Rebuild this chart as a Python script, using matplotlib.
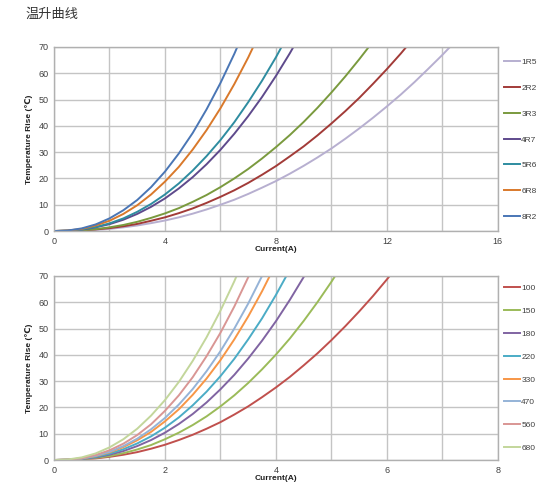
import matplotlib
matplotlib.use("Agg")
import matplotlib.pyplot as plt
import numpy as np

plt.rcParams['font.family'] = ['Liberation Sans', 'DejaVu Sans', 'Noto Sans CJK SC']

# ---- upper chart: temperature rise vs current, series 1R5 .. 8R2
current_top = np.arange(0, 15, 0.5)
top_labels = ["1R5", "2R2", "3R3", "4R7", "5R6", "6R8", "8R2"]
top_colors = ["#B7AFD0", "#A23B38", "#7A9A3E", "#5E4A8C", "#2E8CA0", "#D9792B", "#4A76B5"]
t_1r5 = [0, 0.0, 0.2, 0.4, 0.8, 1.4, 2.1, 3.0, 4.0, 5.2, 6.6, 8.2, 10.0, 11.9, 14.1,
         16.5, 19.0, 21.8, 24.8, 28.0, 31.4, 35.1, 39.0, 43.1, 47.4, 51.9, 56.7, 61.8, 67.0, 72.5]
t_2r2 = [0, 0.0, 0.2, 0.6, 1.1, 1.8, 2.7, 3.9, 5.2, 6.8, 8.6, 10.7, 13.0, 15.5, 18.3,
         21.4, 24.7, 28.4, 32.2, 36.4, 40.9, 45.6, 50.6, 56.0, 61.6, 67.5, 73.8]
t_3r3 = [0, 0.1, 0.3, 0.7, 1.4, 2.3, 3.5, 5.0, 6.7, 8.7, 11.1, 13.7, 16.7, 20.0, 23.6,
         27.6, 31.9, 36.5, 41.5, 46.9, 52.7, 58.8, 65.3, 72.1]
t_4r7 = [0, 0.1, 0.5, 1.4, 2.6, 4.3, 6.5, 9.2, 12.4, 16.2, 20.5, 25.4, 30.9, 37.0, 43.7,
         51.0, 59.0, 67.6, 76.9]
t_5r6 = [0, 0.1, 0.6, 1.5, 2.9, 4.8, 7.3, 10.3, 13.9, 18.1, 23.0, 28.5, 34.6, 41.4, 49.0,
         57.2, 66.1, 75.8]
t_6r8 = [0, 0.2, 0.8, 2.1, 3.9, 6.5, 9.8, 13.9, 18.8, 24.4, 31.0, 38.4, 46.7, 55.9, 66.0, 77.1]
t_8r2 = [0, 0.2, 1.0, 2.5, 4.8, 7.9, 11.8, 16.7, 22.6, 29.5, 37.3, 46.3, 56.3, 67.4, 79.6]

# ---- lower chart: series 100 .. 680
current_bot = np.arange(0, 6.5, 0.25)
bot_labels = ["100", "150", "180", "220", "330", "470", "560", "680"]
bot_colors = ["#C0504D", "#9BBB59", "#8064A2", "#4BACC6", "#F79646", "#95B3D7", "#D99694", "#C3D69B"]
b_100 = [0, 0.1, 0.3, 0.6, 1.2, 2.0, 3.0, 4.3, 5.8, 7.6, 9.6, 11.9, 14.4, 17.3, 20.4,
         23.9, 27.6, 31.6, 36.0, 40.6, 45.6, 50.9, 56.5, 62.4, 68.7, 75.3]
b_150 = [0, 0.1, 0.3, 0.8, 1.5, 2.6, 4.0, 5.7, 7.9, 10.4, 13.3, 16.6, 20.4, 24.6, 29.3,
         34.5, 40.1, 46.2, 52.9, 60.1, 67.8, 76.0]
b_180 = [0, 0.1, 0.4, 1.0, 2.0, 3.4, 5.3, 7.6, 10.4, 13.7, 17.5, 21.9, 26.9, 32.4, 38.6,
         45.4, 52.8, 60.9, 69.6, 79.1]
b_220 = [0, 0.1, 0.5, 1.2, 2.4, 4.1, 6.3, 9.0, 12.3, 16.2, 20.8, 26.0, 31.9, 38.5, 45.9,
         53.9, 62.8, 72.4]
b_330 = [0, 0.1, 0.6, 1.5, 2.9, 4.9, 7.5, 10.7, 14.7, 19.3, 24.8, 31.0, 38.0, 45.9, 54.6,
         64.2, 74.7]
b_470 = [0, 0.1, 0.6, 1.6, 3.1, 5.3, 8.1, 11.7, 16.0, 21.1, 27.0, 33.8, 41.4, 50.0, 59.5,
         70.0, 81.5]
b_560 = [0, 0.1, 0.7, 1.9, 3.7, 6.2, 9.5, 13.6, 18.7, 24.6, 31.5, 39.5, 48.4, 58.4, 69.5, 81.8]
b_680 = [0, 0.2, 1.0, 2.5, 4.8, 7.9, 11.9, 16.9, 22.8, 29.7, 37.7, 46.7, 56.8, 68.0, 80.3]

y_ticks = [0, 10, 20, 30, 40, 50, 60, 70]


def draw_panel(ax, x, series, labels, colors, xmax, xlabel_step, leg_top, row_px):
    for vals, lab, col in zip(series, labels, colors):
        ax.plot(x[:len(vals)], vals, color=col, lw=1.4, label=lab)
    ax.set_xlim(0, xmax)
    ax.set_ylim(0, 70)
    grid_x = np.arange(0, xmax + 0.01, xmax / 8)
    ax.set_xticks(grid_x)
    ax.set_xticklabels([f"{v:g}" if abs(v / xlabel_step - round(v / xlabel_step)) < 1e-6 else ""
                        for v in grid_x])
    ax.set_yticks(y_ticks)
    ax.grid(True, color="#C4C4C4", lw=1.0)
    ax.set_axisbelow(True)
    ax.tick_params(length=0, labelsize=6.5, colors="#404040", pad=4)
    for s in ax.spines.values():
        s.set_color("#B0B0B0")
        s.set_linewidth(1.0)
    ax.set_xlabel("Current(A)", fontsize=6, fontweight="bold", labelpad=0, color="#202020")
    ax.set_ylabel("Temperature Rise (℃)", fontsize=6, fontweight="bold", labelpad=4,
                  color="#202020")
    fs_px = 6 * 100 / 72
    leg = ax.legend(loc="upper left", bbox_to_anchor=(1.0, leg_top), frameon=False,
                    fontsize=6, handlelength=2.0, handletextpad=0.1, borderaxespad=0.3,
                    labelspacing=row_px / fs_px - 1.0)
    for t in leg.get_texts():
        t.set_color("#404040")


fig = plt.figure(figsize=(5.4, 4.83), dpi=100)
fig.text(0.048, 0.97, "温升曲线", fontsize=9.5, color="#333333", va="center",
         family=["Noto Sans CJK SC", "DejaVu Sans"])

ax1 = fig.add_axes([0.1, 0.5217, 0.822, 0.381])
draw_panel(ax1, current_top, [t_1r5, t_2r2, t_3r3, t_4r7, t_5r6, t_6r8, t_8r2],
           top_labels, top_colors, 16, 4, 0.97, 26.3)

ax2 = fig.add_axes([0.1, 0.0476, 0.822, 0.381])
draw_panel(ax2, current_bot, [b_100, b_150, b_180, b_220, b_330, b_470, b_560, b_680],
           bot_labels, bot_colors, 8, 2, 0.985, 23.3)

fig.savefig("out.png", dpi=100)
